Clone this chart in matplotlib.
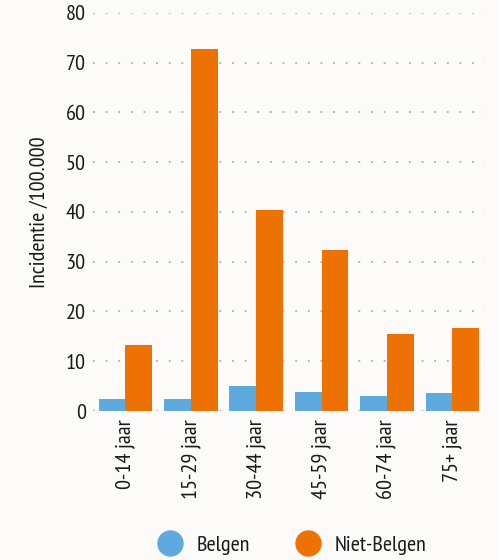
import numpy as np
import matplotlib.pyplot as plt
from matplotlib import font_manager
from matplotlib.lines import Line2D

categories = ["0-14 jaar", "15-29 jaar", "30-44 jaar", "45-59 jaar", "60-74 jaar", "75+ jaar"]
belgen = [2.4, 2.4, 5.0, 3.8, 3.0, 3.6]
niet_belgen = [13.3, 72.8, 40.4, 32.4, 15.5, 16.7]

names = {f.name for f in font_manager.fontManager.ttflist}
fam = next((n for n in ["PT Sans Narrow", "Fira Sans Condensed", "Roboto Condensed"] if n in names), "DejaVu Sans")
plt.rcParams['font.family'] = [fam, 'DejaVu Sans']

bg = "#fcfbfa"
blue = "#5eaadf"
orange = "#ee7203"
ink = "#1a1a1a"

fig = plt.figure(figsize=(4.99, 5.6), dpi=100, facecolor=bg)
ax = fig.add_axes([0.186, 0.266, 0.786, 0.711], facecolor=bg)

x = np.arange(len(categories))
w = 0.41
ax.bar(x - w / 2, belgen, w, color=blue, zorder=3)
ax.bar(x + w / 2, niet_belgen, w, color=orange, zorder=3)

ax.set_xlim(-0.5, len(categories) - 0.5)
ax.set_ylim(0, 80)
ax.set_yticks(range(0, 81, 10))
ax.yaxis.grid(True, linestyle=(0, (1, 6)), color="#b0b0b0", linewidth=1.3)
ax.set_axisbelow(True)
for s in ax.spines.values():
    s.set_visible(False)
ax.tick_params(length=0, labelsize=16, colors=ink)
ax.tick_params(axis="y", pad=5)
ax.tick_params(axis="x", pad=6)
ax.set_xticks(x)
ax.set_xticklabels(categories, rotation=90)
ax.set_ylabel("Incidentie /100.000", fontsize=16, color=ink, labelpad=12)

handles = [Line2D([], [], marker="o", linestyle="", markersize=18, color=blue),
           Line2D([], [], marker="o", linestyle="", markersize=18, color=orange)]
fig.legend(handles, ["Belgen", "Niet-Belgen"], loc="center", bbox_to_anchor=(0.575, 0.027),
           ncol=2, frameon=False, fontsize=16, handletextpad=0.2, columnspacing=1.6,
           labelcolor=ink)

fig.savefig("out.png", dpi=100, facecolor=bg)
